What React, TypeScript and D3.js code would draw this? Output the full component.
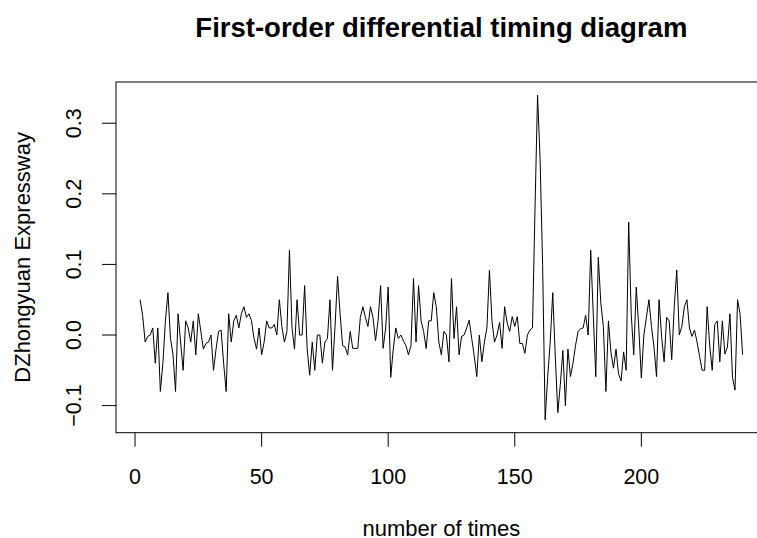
import React from 'react';
import * as d3 from 'd3';

// first-order differences, one value per time step starting at t = 2
const diffValues: number[] = [
  0.05, 0.028, -0.01, -0.002, 0.0, 0.01, -0.04, 0.01, -0.08, -0.04,
  0.02, 0.06, -0.005, -0.028, -0.08, 0.03, -0.01, -0.05, 0.02, 0.01,
  -0.01, 0.02, -0.028, 0.03, 0.005, -0.02, -0.012, -0.01, 0.0, -0.05,
  -0.02, 0.005, 0.007, -0.04, -0.08, 0.03, -0.01, 0.02, 0.028, 0.01,
  0.03, 0.04, 0.025, 0.03, 0.02, -0.005, -0.02, 0.01, -0.028, -0.01,
  0.02, 0.01, 0.01, 0.015, 0.0, 0.05, 0.012, -0.01, 0.005, 0.12,
  0.01, -0.02, 0.05, 0.0, 0.0, 0.07, -0.02, -0.057, -0.01, -0.05,
  0.0, 0.0, -0.04, -0.01, -0.005, 0.05, -0.05, 0.012, 0.083, 0.03,
  -0.015, -0.017, -0.028, 0.005, -0.019, -0.019, -0.019, 0.025, 0.04, 0.025,
  0.012, 0.04, 0.025, -0.008, 0.02, 0.07, -0.019, 0.01, 0.068, -0.06,
  -0.02, 0.01, -0.005, 0.0, -0.008, -0.015, -0.028, -0.015, 0.08, -0.01,
  0.07, 0.02, 0.005, -0.019, 0.02, 0.02, 0.06, 0.04, -0.01, -0.028,
  0.005, 0.0, -0.038, 0.08, -0.005, 0.04, -0.028, -0.002, 0.0, 0.01,
  0.021, -0.005, -0.03, -0.059, 0.0, -0.038, -0.01, 0.01, 0.092, 0.02,
  -0.01, 0.0, 0.018, -0.019, 0.04, 0.017, 0.005, 0.026, 0.012, 0.026,
  -0.012, -0.012, -0.026, 0.0, 0.007, 0.01, 0.18, 0.34, 0.25, 0.1,
  -0.12, -0.06, -0.01, 0.06, -0.03, -0.11, -0.07, -0.022, -0.1, -0.02,
  -0.059, -0.04, -0.015, 0.005, 0.009, 0.01, 0.028, 0.0, 0.12, 0.03,
  -0.059, 0.11, 0.045, 0.012, -0.08, 0.02, -0.025, -0.047, -0.02, -0.055,
  -0.065, -0.024, -0.05, 0.16, 0.03, -0.028, 0.068, 0.01, -0.061, 0.0,
  0.025, 0.05, 0.012, -0.017, -0.059, 0.05, -0.002, -0.038, 0.025, 0.02,
  -0.035, 0.04, 0.092, 0.0, 0.012, 0.04, 0.05, 0.01, -0.002, 0.007,
  -0.01, -0.03, -0.05, -0.05, 0.04, -0.015, -0.05, 0.015, 0.02, -0.038,
  0.02, -0.027, -0.017, 0.03, -0.06, -0.078, 0.05, 0.03, -0.028,
];
const firstTime = 2;

const xTicks = [0, 50, 100, 150, 200];
const yTicks = [-0.1, 0.0, 0.1, 0.2, 0.3];

const title = 'First-order differential timing diagram';
const xLabel = 'number of times';
const yLabel = 'DZhongyuan Expressway';

const width = 757;
const height = 538;
const box = { left: 116, right: 766.7, top: 82, bottom: 432.7 };
const tickLen = 14;
const font = '"Liberation Sans", Arial, sans-serif';

// R style axis range: data extent plus 4% each side
function padExtent(ext: [number, number]): [number, number] {
  const d = (ext[1] - ext[0]) * 0.04;
  return [ext[0] - d, ext[1] + d];
}

export default function App() {
  const times = diffValues.map((_, i) => firstTime + i);

  const x = d3
    .scaleLinear()
    .domain(padExtent(d3.extent(times) as [number, number]))
    .range([box.left, box.right]);
  const y = d3
    .scaleLinear()
    .domain(padExtent(d3.extent(diffValues) as [number, number]))
    .range([box.bottom, box.top]);

  const line = d3
    .line<number>()
    .x((_, i) => x(times[i]))
    .y((d) => y(d));

  return (
    <svg
      width={width}
      height={height}
      style={{ position: 'absolute', left: 0, top: 0, background: '#fff' }}
      fontFamily={font}
    >
      <text x={(box.left + box.right) / 2} y={37} textAnchor="middle" fontSize={27.5} fontWeight="bold">
        {title}
      </text>

      <path d={line(diffValues) || ''} fill="none" stroke="#000" strokeWidth={1} />

      <rect
        x={box.left}
        y={box.top}
        width={box.right - box.left}
        height={box.bottom - box.top}
        fill="none"
        stroke="#000"
        strokeWidth={1}
      />

      {/* x axis */}
      {xTicks.map((t) => (
        <g key={t}>
          <line x1={x(t)} x2={x(t)} y1={box.bottom} y2={box.bottom + tickLen} stroke="#000" />
          <text x={x(t)} y={483.5} textAnchor="middle" fontSize={21.5}>
            {t}
          </text>
        </g>
      ))}

      {/* y axis */}
      {yTicks.map((t) => (
        <g key={t}>
          <line x1={box.left - tickLen} x2={box.left} y1={y(t)} y2={y(t)} stroke="#000" />
          <text
            transform={`translate(${81},${y(t)}) rotate(-90)`}
            textAnchor="middle"
            fontSize={21.5}
          >
            {d3.format('.1f')(t)}
          </text>
        </g>
      ))}

      <text x={(box.left + box.right) / 2} y={536} textAnchor="middle" fontSize={22}>
        {xLabel}
      </text>
      <text
        transform={`translate(30,${(box.top + box.bottom) / 2}) rotate(-90)`}
        textAnchor="middle"
        fontSize={22}
      >
        {yLabel}
      </text>
    </svg>
  );
}
